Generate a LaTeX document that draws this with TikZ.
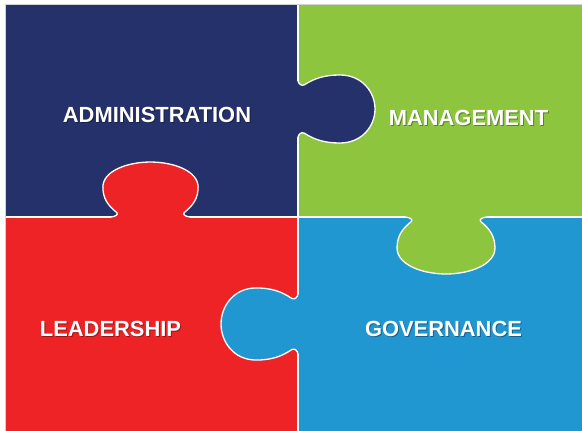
\documentclass[tikz,border=0pt]{standalone}
\usepackage{fontspec}
\setmainfont{Liberation Sans}
\definecolor{adminblue}{HTML}{24316B}
\definecolor{mgmtgreen}{HTML}{8DC53F}
\definecolor{leadred}{HTML}{EE2326}
\definecolor{govblue}{HTML}{2197D1}
% knob outline: x points out of the seam, y runs along it
\newcommand{\knob}{(0,-28) .. controls (1,-25) and (3,-23) .. (6,-24) .. controls (17,-31) and (27,-34) .. (42,-34) .. controls (64,-34) and (77,-17) .. (77,0) .. controls (77,17) and (64,34) .. (42,34) .. controls (27,34) and (17,31) .. (6,24) .. controls (3,23) and (1,25) .. (0,28)}

\begin{document}
\begin{tikzpicture}[x=1pt, y=-1pt,
	seam/.style={draw=white, line width=1.3pt},
	caption/.style={text=white, font=\fontsize{21.9}{24}\selectfont\bfseries, inner sep=0pt, anchor=base},
	caption shadow/.style={caption, text=black, opacity=0.35}]
	\useasboundingbox (0,0) rectangle (582,431);
	\coordinate(nw) at (5,4);
	\coordinate(se) at (585,434);
	\coordinate(mid) at (298,217);

	% the four pieces
	\fill[adminblue] (nw) rectangle (mid);
	\fill[mgmtgreen] (nw -| se) rectangle (mid);
	\fill[leadred] (nw |- se) rectangle (mid);
	\fill[govblue] (se) rectangle (mid);
	\draw[seam] (mid |- nw) -- (mid |- se);
	\draw[seam] (mid -| nw) -- (mid -| se);
	\draw[gray!35, line width=0.6pt] (nw |- se) -- (nw) -- (nw -| se);

	% knobs
	\begin{scope}[shift={(298,109)}]
		\fill[adminblue] \knob -- (-3,28) -- (-3,-28) -- cycle;
		\draw[seam] \knob;
	\end{scope}
	\begin{scope}[shift={(298,324)}, xscale=-1, yscale=1.06]
		\fill[govblue] \knob -- (-3,28) -- (-3,-28) -- cycle;
		\draw[seam] \knob;
	\end{scope}
	\begin{scope}[shift={(150.5,217)}, rotate=90, xscale=0.714, yscale=1.40]
		\fill[leadred] \knob -- (-3,28) -- (-3,-28) -- cycle;
		\draw[seam] \knob;
	\end{scope}
	\begin{scope}[shift={(446,217)}, rotate=-90, xscale=0.74, yscale=1.44]
		\fill[mgmtgreen] \knob -- (-3,28) -- (-3,-28) -- cycle;
		\draw[seam] \knob;
	\end{scope}

	% labels
	\node[caption shadow] (admin shadow) at (158,123.5) {ADMINISTRATION};
	\node[caption] (admin) at (157,122.5) {ADMINISTRATION};
	\node[caption shadow] (mgmt shadow) at (469.5,126) {MANAGEMENT};
	\node[caption] (mgmt) at (468.5,125) {MANAGEMENT};
	\node[caption shadow] (lead shadow) at (111.5,337.5) {LEADERSHIP};
	\node[caption] (lead) at (110.5,336.5) {LEADERSHIP};
	\node[caption shadow] (gov shadow) at (444.5,337.5) {GOVERNANCE};
	\node[caption] (gov) at (443.5,336.5) {GOVERNANCE};
\end{tikzpicture}
\end{document}
